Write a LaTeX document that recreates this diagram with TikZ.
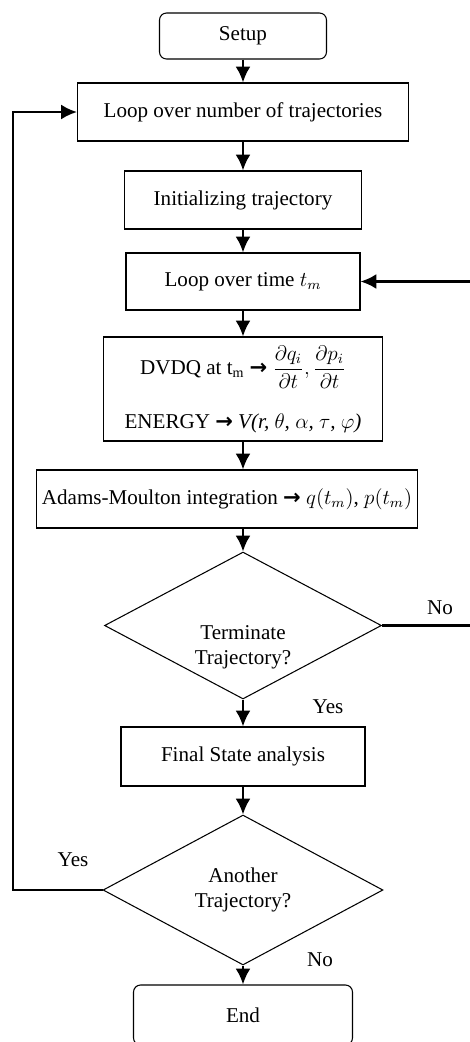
\documentclass[tikz,border=0pt]{standalone}
\usepackage{amsmath}
\usepackage{fontspec}
\setmainfont{Liberation Serif}
\newfontfamily\symbolesfont{DejaVu Sans}
\usepackage{tikz}
\usetikzlibrary{arrows.meta,positioning,calc,shapes.geometric}
\newcommand{\versfleche}{{\symbolesfont\bfseries →}}

\begin{document}
\begin{tikzpicture}[x=0.02cm,y=-0.02cm]
\tikzstyle{fleche}=[-{Latex[length=9pt,width=8.5pt]},line width=1.4pt]
\tikzstyle{boite}=[draw,line width=0.6pt,rectangle,minimum height=1.16cm,font=\fontsize{12}{14}\selectfont]
\tikzstyle{terminal}=[boite,rounded corners=4pt]
\tikzstyle{decision}=[draw,line width=0.6pt,diamond,inner sep=0pt,align=center,font=\fontsize{12}{14}\selectfont]
\tikzstyle{texte}=[align=center,font=\fontsize{12}{14}\selectfont]
\def\Colonne{243}
\useasboundingbox (0,0) rectangle (470,1042);
\clip (0,0) rectangle (470,1042);
\node[terminal,minimum width=3.34cm,minimum height=0.92cm] (Setup) at (\Colonne,36) {Setup};
\node[boite,minimum width=6.62cm] (Boucle) at (\Colonne,112) {Loop over number of trajectories};
\node[boite,minimum width=4.74cm] (Init) at (\Colonne,200) {Initializing trajectory};
\node[boite,minimum width=4.68cm,minimum height=1.14cm] (Temps) at (\Colonne,281.5) {Loop over time $t_m$};
\node[boite,minimum width=5.58cm,minimum height=2.08cm,align=center] (DVDQ) at (\Colonne,389) {DVDQ at t\textsubscript{m} \versfleche{} $\dfrac{\partial q_i}{\partial t}, \dfrac{\partial p_i}{\partial t}$\\[13pt] ENERGY \versfleche{} \textit{V(r, $\theta$, $\alpha$, $\tau$, $\varphi$)}};
\node[boite,minimum width=7.48cm] (Adams) at (227,499) {Adams-Moulton integration \versfleche{} $q(t_m)$, $p(t_m)$};
\node[decision,minimum width=5.54cm,minimum height=2.94cm] (Fin) at (\Colonne,625.5) {};
\node[texte] (FinTexte) at (\Colonne,647) {Terminate\\Trajectory?};
\node[boite,minimum width=4.88cm,minimum height=1.18cm] (Final) at (\Colonne,756.5) {Final State analysis};
\node[decision,minimum width=5.6cm,minimum height=3cm] (Autre) at (\Colonne,890) {Another\\Trajectory?};
\node[terminal,minimum width=4.38cm,minimum height=1.2cm] (End) at (\Colonne,1015) {End};
\node[texte] (NonA) at (440,608) {No};
\node[texte] (OuiA) at (328,707) {Yes};
\node[texte] (OuiB) at (73,860) {Yes};
\node[texte] (NonB) at (320,960) {No};
\coordinate (RetourG) at (13,890);
\coordinate (RetourD) at (472,625.5);
\draw[fleche] (Setup)--(Boucle);
\draw[fleche] (Boucle)--(Init);
\draw[fleche] (Init)--(Temps);
\draw[fleche] (Temps)--(DVDQ);
\draw[fleche] (DVDQ)--(DVDQ|-Adams.north);
\draw[fleche] (Adams.south-|Fin)--(Fin);
\draw[fleche] (Fin)--(Final);
\draw[fleche] (Final)--(Autre);
\draw[fleche] (Autre)--(End);
\draw[fleche] (Autre.west)--(RetourG)|-(Boucle.west);
\draw[fleche] (Fin.east)--(RetourD)|-(Temps.east);
\end{tikzpicture}
\end{document}
